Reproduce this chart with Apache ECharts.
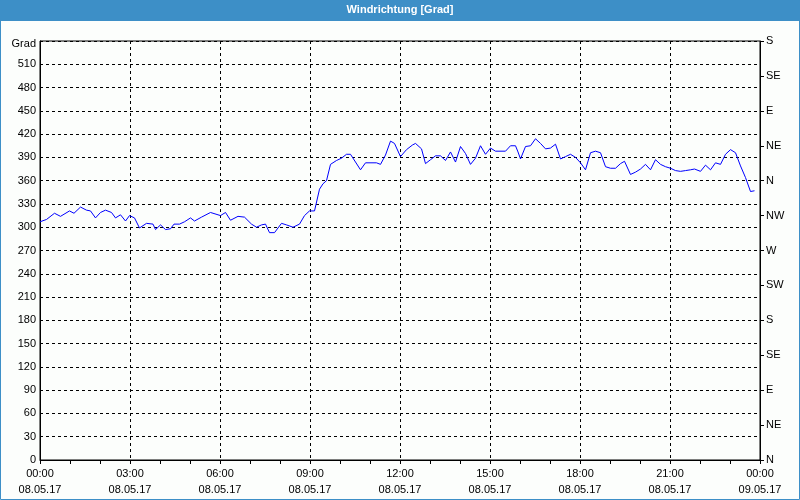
<!DOCTYPE html>
<html>
<head>
<meta charset="utf-8">
<script src="https://cdn.jsdelivr.net/npm/echarts@6/dist/echarts.min.js"></script>
<style>html,body{margin:0;padding:0;background:#fcfefc;}#chart{width:800px;height:500px;}</style>
</head>
<body>
<div id="chart"></div>
<script>
// time in minutes since 08.05.17 00:00
const times = [0,13,29,41,59,68,81,93,101,111,121,131,143,151,161,171,179,189,199,213,226,231,241,251,261,268,279,289,301,309,323,341,361,371,381,396,409,423,433,443,451,459,469,476,
483,493,506,519,529,539,549,559,566,573,581,593,603,613,621,641,651,673,681,691,701,709,721,733,745,751,763,771,781,791,801,811,821,831,841,851,861,871,881,891,901,911,931,941,951,956,
961,971,981,991,1001,1011,1021,1031,1041,1051,1061,1071,1081,1091,1101,1111,1121,1131,1141,1151,1161,1169,1181,1191,1201,1211,1221,1231,1241,1251,1261,1271,1281,1291,1301,1309,1321,1331,1341,1351,1361,1371,1381,1391,1401,1411,1421,1429];
const directions = [307,310,318,314,321,318,326,322,321,312,319,322,319,312,316,308,315,312,299,305,304,297,303,297,298,304,304,307,312,308,313,319,315,319,309,314,313,304,300,303,304,293,293,299,
305,303,300,304,315,321,321,349,356,360,381,386,389,394,394,374,383,383,381,393,411,408,391,400,406,408,401,382,387,392,392,386,397,384,404,395,381,389,405,394,402,398,398,405,405,397,
388,404,405,414,408,401,402,407,388,391,394,390,383,374,396,398,396,378,376,376,382,385,368,371,375,381,374,387,381,378,376,373,372,373,374,375,372,380,374,383,381,394,400,396,379,364,346,347];
const xTickTimes = ['00:00','03:00','06:00','09:00','12:00','15:00','18:00','21:00','00:00'];
const xTickDates = ['08.05.17','08.05.17','08.05.17','08.05.17','08.05.17','08.05.17','08.05.17','08.05.17','09.05.17'];
const compassLabels = ['N','NE','E','SE','S','SW','W','NW','N','NE','E','SE','S'];
const titleText = 'Windrichtung [Grad]';
const unitLabel = 'Grad';

const chart = echarts.init(document.getElementById('chart'), null, {renderer:'canvas'});
const font = 'Tahoma, "Liberation Sans", Arial, sans-serif';
const data = times.map((t,i)=>[t,directions[i]]);

chart.setOption({
  backgroundColor:'#fcfefc',
  animation:false,
  graphic:[
    {type:'rect', shape:{x:0,y:0,width:800,height:21}, style:{fill:'#3d8fc7'}, z:10},
    {type:'rect', shape:{x:0.5,y:0.5,width:799,height:499}, style:{fill:null, stroke:'#3d8fc7', lineWidth:1}, z:10},
    {type:'text', left:'center', top:4, style:{text:titleText, fill:'#ffffff', font:'bold 11px '+font}, z:11}
  ],
  grid:{left:40, right:40, top:41, bottom:40, containLabel:false, outerBoundsMode:'none',
    show:true, borderColor:'#000', borderWidth:1, backgroundColor:'transparent'},
  xAxis:{
    type:'value', min:0, max:1440, interval:180,
    axisLine:{show:true, lineStyle:{color:'#000', width:1}},
    axisTick:{show:true, length:4, lineStyle:{color:'#000'}},
    minorTick:{show:true, splitNumber:3, length:4, lineStyle:{color:'#000'}},
    splitLine:{show:true, lineStyle:{color:'#000', type:[3,3], width:1}},
    axisLabel:{
      margin:6, color:'#000', fontSize:11, fontFamily:font, lineHeight:16,
      formatter:function(v){ const i=Math.round(v/180); return xTickTimes[i]+'\n'+xTickDates[i]; }
    }
  },
  yAxis:[
    {
      type:'value', min:0, max:540, interval:30, position:'left',
      axisLine:{show:true, lineStyle:{color:'#000', width:1}},
      axisTick:{show:false},
      splitLine:{show:true, lineStyle:{color:'#000', type:[3,3], width:1}},
      axisLabel:{margin:4, color:'#000', fontSize:11, fontFamily:font,
        formatter:function(v){ return v===540 ? '{g|'+unitLabel+'}' : String(v); },
        rich:{g:{fontSize:11, fontFamily:font, color:'#000', padding:[6,0,0,0]}}}
    },
    {
      type:'value', min:0, max:540, interval:45, position:'right',
      axisLine:{show:true, lineStyle:{color:'#000', width:1}},
      axisTick:{show:true, inside:false, length:4, lineStyle:{color:'#000'}},
      splitLine:{show:false},
      axisLabel:{margin:6, color:'#000', fontSize:11, fontFamily:font,
        formatter:function(v){ return compassLabels[Math.round(v/45)]; }}
    }
  ],
  series:[{
    type:'line', data:data, yAxisIndex:0, showSymbol:false, symbol:'none',
    lineStyle:{color:'#0000ff', width:1}, smooth:false
  }]
});
</script>
</body>
</html>
